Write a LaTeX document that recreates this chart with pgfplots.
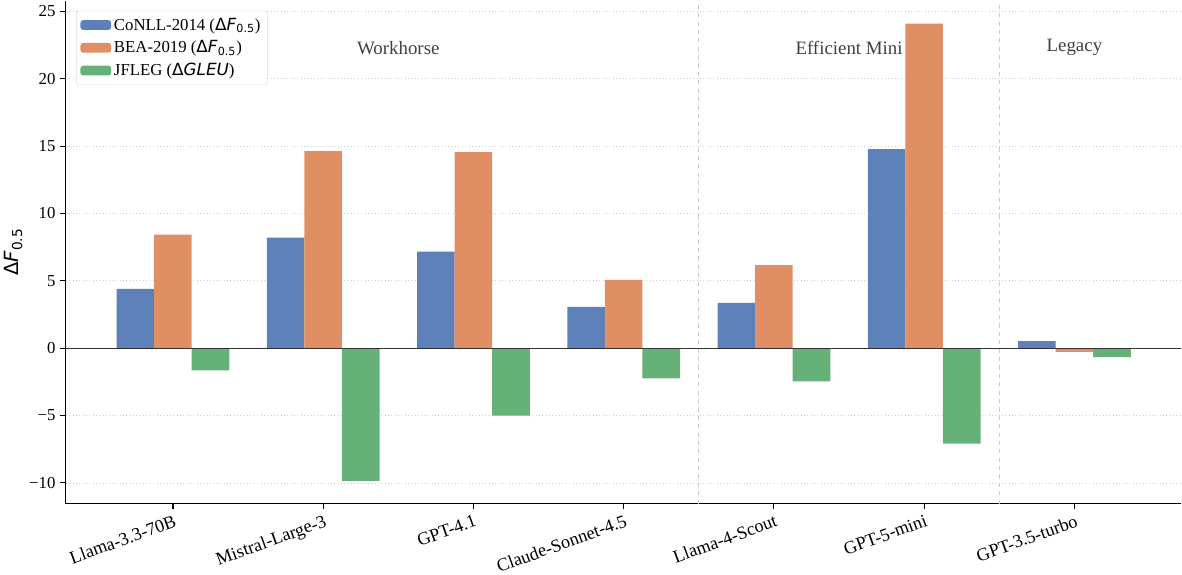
\documentclass[border=0pt]{standalone}
\usepackage{fontspec}
\setmainfont{Liberation Serif}
\newfontfamily\dejavu{DejaVu Sans}
\usepackage{pgfplots}
\pgfplotsset{compat=1.18}
\definecolor{cblue}{HTML}{5E80B8}
\definecolor{corange}{HTML}{E08F64}
\definecolor{cgreen}{HTML}{66B177}
\newcommand{\dF}{{\dejavu Δ\textit{F}\textsubscript{0.5}}}
\begin{document}
\begin{tikzpicture}
\begin{axis}[
  scale only axis,
  width=798pt, height=360pt,
  xmin=-0.7125, xmax=6.7125,
  ymin=-11.55, ymax=25.8,
  axis x line*=bottom, axis y line*=left,
  axis line style={black, line width=0.8pt},
  xtick={0,1,2,3,4,5,6},
  xticklabels={Llama-3.3-70B,Mistral-Large-3,GPT-4.1,Claude-Sonnet-4.5,Llama-4-Scout,GPT-5-mini,GPT-3.5-turbo},
  x tick label style={rotate=20, anchor=north east, font=\fontsize{13}{15}\selectfont, inner sep=1pt, yshift=-2pt},
  ytick={-10,-5,0,5,10,15,20,25},
  yticklabels={−10,−5,0,5,10,15,20,25},
  y tick label style={font=\fontsize{12}{14}\selectfont},
  tick style={black, line width=0.8pt},
  major tick length=4pt,
  tick align=outside,
  ymajorgrids,
  grid style={gray!40, dotted, line width=0.6pt},
  ylabel={\dF},
  ylabel style={font=\fontsize{14}{16}\selectfont, yshift=-2pt},
  legend style={at={(0.009,0.98)}, anchor=north west, draw=gray!25, rounded corners=2pt, font=\fontsize{12}{14}\selectfont, row sep=2pt, inner sep=3pt},
  legend cell align=left,
  legend image code/.code={\fill[#1] (0pt,-3.5pt) rectangle (22pt,3.5pt);},
  clip=false,
]
\addplot[ybar, bar width=0.25, bar shift=-0.25, fill=cblue, draw=none] coordinates {(0,4.4) (1,8.2) (2,7.16) (3,3.06) (4,3.36) (5,14.78) (6,0.52)};
\addlegendentry{CoNLL-2014 (\dF)}
\addplot[ybar, bar width=0.25, bar shift=0, fill=corange, draw=none] coordinates {(0,8.43) (1,14.63) (2,14.55) (3,5.07) (4,6.17) (5,24.08) (6,-0.28)};
\addlegendentry{BEA-2019 (\dF)}
\addplot[ybar, bar width=0.25, bar shift=0.25, fill=cgreen, draw=none] coordinates {(0,-1.64) (1,-9.85) (2,-5.0) (3,-2.24) (4,-2.46) (5,-7.09) (6,-0.67)};
\addlegendentry{JFLEG ({\dejavu Δ\textit{GLEU}})}
\addplot[black!80, line width=0.8pt, forget plot] coordinates {(-0.7125,0) (6.7125,0)};
\draw[gray!40, dashed, line width=0.8pt] (axis cs:3.5,-11.55) -- (axis cs:3.5,25.8);
\draw[gray!40, dashed, line width=0.8pt] (axis cs:5.5,-11.55) -- (axis cs:5.5,25.8);
\node[font=\fontsize{13.5}{16}\selectfont, text=black!75] at (axis cs:1.5,22.3) {Workhorse};
\node[font=\fontsize{13.5}{16}\selectfont, text=black!75] at (axis cs:4.5,22.3) {Efficient Mini};
\node[font=\fontsize{13.5}{16}\selectfont, text=black!75] at (axis cs:6,22.3) {Legacy};
\end{axis}
\end{tikzpicture}
\end{document}
